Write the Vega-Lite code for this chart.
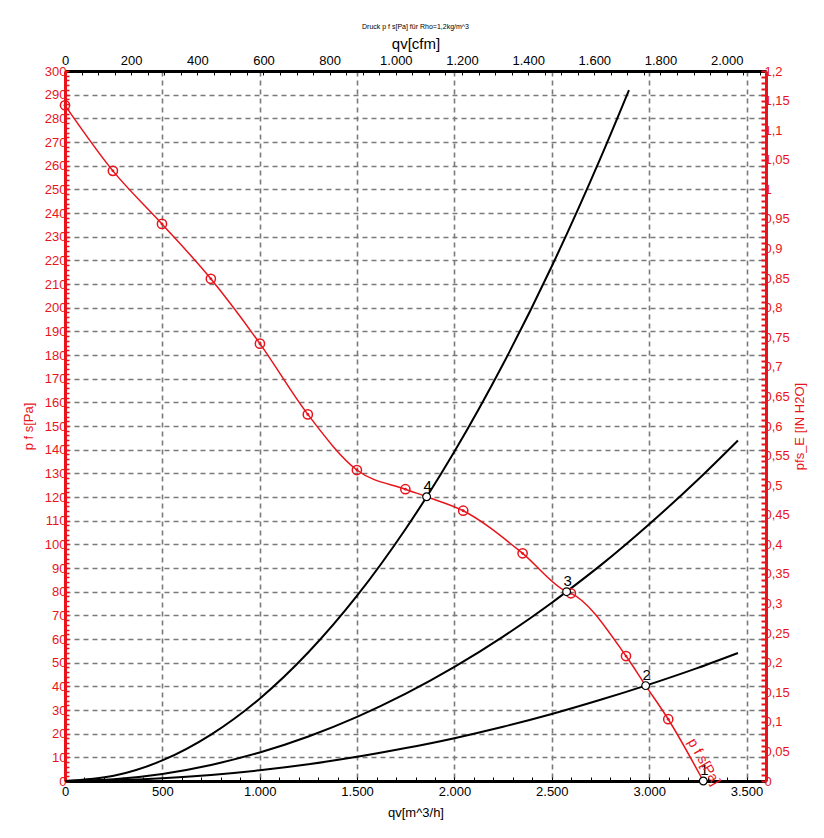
{
  "$schema": "https://vega.github.io/schema/vega-lite/v6.json",
  "autosize": {"type": "none"},
  "padding": {"left": 65, "top": 71, "right": 58, "bottom": 57},
  "width": 701,
  "height": 710,
  "background": "white",
  "config": {
    "locale": {"number": {"decimal": ",", "thousands": ".", "grouping": [3], "currency": ["", " €"]}},
    "font": "Liberation Sans",
    "view": {"stroke": null},
    "axis": {"labelFlush": false}
  },
  "title": {"text": "Druck p f s[Pa] für Rho=1,2kg/m^3", "fontSize": 7, "fontWeight": "normal", "font": "Liberation Sans", "color": "black", "offset": 6},
  "datasets": {
    "fan": [
      {"q": 0, "p": 285.5, "kind": "m"},
      {"q": 246, "p": 257.8, "kind": "m"},
      {"q": 498, "p": 235.4, "kind": "m"},
      {"q": 749, "p": 212.2, "kind": "m"},
      {"q": 1001, "p": 184.8, "kind": "m"},
      {"q": 1247, "p": 154.9, "kind": "m"},
      {"q": 1499, "p": 131.4, "kind": "m"},
      {"q": 1748, "p": 123.3, "kind": "m"},
      {"q": 1857, "p": 120.1, "kind": "op"},
      {"q": 2045, "p": 114.2, "kind": "m"},
      {"q": 2350, "p": 96.2, "kind": "m"},
      {"q": 2576, "p": 80.0, "kind": "op"},
      {"q": 2598, "p": 79.3, "kind": "m"},
      {"q": 2881, "p": 52.8, "kind": "m"},
      {"q": 2982, "p": 40.3, "kind": "op"},
      {"q": 3098, "p": 26.1, "kind": "m"},
      {"q": 3278, "p": 0, "kind": "op"}
    ],
    "ops": [
      {"id": "4", "q": 1857, "p": 120.1},
      {"id": "3", "q": 2576, "p": 80.0},
      {"id": "2", "q": 2982, "p": 40.3},
      {"id": "1", "q": 3278, "p": 0}
    ],
    "sys": [
      {"curve": 4, "q": 0, "p": 0},
      {"curve": 4, "q": 250, "p": 2.18},
      {"curve": 4, "q": 500, "p": 8.7},
      {"curve": 4, "q": 750, "p": 19.6},
      {"curve": 4, "q": 1000, "p": 34.8},
      {"curve": 4, "q": 1250, "p": 54.4},
      {"curve": 4, "q": 1500, "p": 78.3},
      {"curve": 4, "q": 1750, "p": 106.6},
      {"curve": 4, "q": 1857, "p": 120.0},
      {"curve": 4, "q": 2000, "p": 139.2},
      {"curve": 4, "q": 2250, "p": 176.2},
      {"curve": 4, "q": 2500, "p": 217.5},
      {"curve": 4, "q": 2750, "p": 263.2},
      {"curve": 4, "q": 2896, "p": 291.9},
      {"curve": 3, "q": 0, "p": 0},
      {"curve": 3, "q": 250, "p": 0.75},
      {"curve": 3, "q": 500, "p": 3.0},
      {"curve": 3, "q": 750, "p": 6.8},
      {"curve": 3, "q": 1000, "p": 12.05},
      {"curve": 3, "q": 1250, "p": 18.8},
      {"curve": 3, "q": 1500, "p": 27.1},
      {"curve": 3, "q": 1750, "p": 36.9},
      {"curve": 3, "q": 2000, "p": 48.2},
      {"curve": 3, "q": 2250, "p": 61.0},
      {"curve": 3, "q": 2500, "p": 75.3},
      {"curve": 3, "q": 2576, "p": 80.0},
      {"curve": 3, "q": 2750, "p": 91.1},
      {"curve": 3, "q": 3000, "p": 108.5},
      {"curve": 3, "q": 3250, "p": 127.3},
      {"curve": 3, "q": 3456, "p": 143.9},
      {"curve": 2, "q": 0, "p": 0},
      {"curve": 2, "q": 250, "p": 0.28},
      {"curve": 2, "q": 500, "p": 1.13},
      {"curve": 2, "q": 750, "p": 2.55},
      {"curve": 2, "q": 1000, "p": 4.53},
      {"curve": 2, "q": 1250, "p": 7.08},
      {"curve": 2, "q": 1500, "p": 10.2},
      {"curve": 2, "q": 1750, "p": 13.9},
      {"curve": 2, "q": 2000, "p": 18.1},
      {"curve": 2, "q": 2250, "p": 22.9},
      {"curve": 2, "q": 2500, "p": 28.3},
      {"curve": 2, "q": 2750, "p": 34.3},
      {"curve": 2, "q": 2982, "p": 40.3},
      {"curve": 2, "q": 3250, "p": 47.8},
      {"curve": 2, "q": 3456, "p": 54.1}
    ],
    "label": [
      {"q": 3280, "p": 8, "text": "p f s[Pa]"}
    ],
    "aux": [
      {"cfm": 0, "inh2o": 0},
      {"cfm": 2118.9, "inh2o": 1.2}
    ]
  },
  "layer": [
    {
      "layer": [
        {
          "data": {"name": "sys"},
          "mark": {"type": "line", "color": "black", "strokeWidth": 2, "interpolate": "monotone"},
          "encoding": {
            "x": {
              "field": "q", "type": "quantitative",
              "scale": {"domain": [0, 3600], "nice": false, "zero": false},
              "axis": {
                "orient": "bottom",
                "title": "qv[m^3/h]",
                "titleFontSize": 13, "titleFontWeight": "normal", "titleColor": "black", "titleFont": "Liberation Sans",
                "titlePadding": 8,
                "tickCount": 1000,
                "labelOverlap": false,
                "values": [0,100,200,300,400,500,600,700,800,900,1000,1100,1200,1300,1400,1500,1600,1700,1800,1900,2000,2100,2200,2300,2400,2500,2600,2700,2800,2900,3000,3100,3200,3300,3400,3500],
                "format": ",d",
                "labelExpr": "datum.value % 500 === 0 ? datum.label : ''",
                "labelFontSize": 13, "labelColor": "black", "labelFont": "Liberation Sans",
                "labelPadding": 8,
                "domainColor": "black", "domainWidth": 3,
                "tickColor": "black", "tickWidth": 1,
                "tickSize": -4,
                "grid": true,
                "gridColor": "#7a7a7a", "gridWidth": 1.6, "gridDash": [5, 4],
                "gridOpacity": {"condition": {"test": "datum.value % 500 === 0 && datum.value > 0", "value": 1}, "value": 0}
              }
            },
            "y": {
              "field": "p", "type": "quantitative",
              "scale": {"domain": [0, 300], "nice": false, "zero": false},
              "axis": {
                "orient": "left",
                "title": "p f s[Pa]",
                "titleFontSize": 13, "titleFontWeight": "normal", "titleColor": "#e8141c", "titleFont": "Liberation Sans",
                "titleX": -30,
                "tickCount": 1000,
                "labelOverlap": false,
                "values": [0,2,4,6,8,10,12,14,16,18,20,22,24,26,28,30,32,34,36,38,40,42,44,46,48,50,52,54,56,58,60,62,64,66,68,70,72,74,76,78,80,82,84,86,88,90,92,94,96,98,100,102,104,106,108,110,112,114,116,118,120,122,124,126,128,130,132,134,136,138,140,142,144,146,148,150,152,154,156,158,160,162,164,166,168,170,172,174,176,178,180,182,184,186,188,190,192,194,196,198,200,202,204,206,208,210,212,214,216,218,220,222,224,226,228,230,232,234,236,238,240,242,244,246,248,250,252,254,256,258,260,262,264,266,268,270,272,274,276,278,280,282,284,286,288,290,292,294,296,298,300],
                "format": "d",
                "labelExpr": "datum.value % 10 === 0 ? datum.label : ''",
                "labelFontSize": 13, "labelColor": "#e8141c", "labelFont": "Liberation Sans",
                "labelPadding": 3,
                "domainColor": "#e8141c", "domainWidth": 3,
                "tickColor": "#e8141c", "tickWidth": 1.5,
                "tickSize": -4,
                "grid": true,
                "gridColor": "#7a7a7a", "gridWidth": 1.6, "gridDash": [5, 4],
                "gridOpacity": {"condition": {"test": "datum.value % 10 === 0 && datum.value > 0 && datum.value < 300", "value": 1}, "value": 0}
              }
            },
            "detail": {"field": "curve", "type": "nominal"}
          }
        },
        {
          "data": {"name": "fan"},
          "mark": {"type": "line", "color": "#e8141c", "strokeWidth": 1.5, "interpolate": "monotone"},
          "encoding": {
            "x": {"field": "q", "type": "quantitative"},
            "y": {"field": "p", "type": "quantitative"}
          }
        },
        {
          "data": {"name": "fan"},
          "transform": [{"filter": "datum.kind === 'm'"}],
          "mark": {"type": "point", "shape": "circle", "filled": false, "color": "#e8141c", "strokeWidth": 1.5, "size": 85, "opacity": 1},
          "encoding": {
            "x": {"field": "q", "type": "quantitative"},
            "y": {"field": "p", "type": "quantitative"}
          }
        },
        {
          "data": {"name": "fan"},
          "transform": [{"filter": "datum.kind === 'm'"}],
          "mark": {"type": "point", "shape": "circle", "filled": true, "color": "#e8141c", "size": 8, "opacity": 1},
          "encoding": {
            "x": {"field": "q", "type": "quantitative"},
            "y": {"field": "p", "type": "quantitative"}
          }
        },
        {
          "data": {"name": "ops"},
          "mark": {"type": "point", "shape": "circle", "filled": true, "fill": "white", "stroke": "black", "strokeWidth": 1.2, "size": 60, "opacity": 1},
          "encoding": {
            "x": {"field": "q", "type": "quantitative"},
            "y": {"field": "p", "type": "quantitative"}
          }
        },
        {
          "data": {"name": "ops"},
          "mark": {"type": "text", "color": "black", "fontSize": 15, "font": "Liberation Sans", "dy": -11, "dx": 1},
          "encoding": {
            "x": {"field": "q", "type": "quantitative"},
            "y": {"field": "p", "type": "quantitative"},
            "text": {"field": "id"}
          }
        },
        {
          "data": {"name": "label"},
          "mark": {"type": "text", "color": "#e8141c", "fontSize": 14, "font": "Liberation Sans", "angle": 60, "align": "center", "baseline": "middle"},
          "encoding": {
            "x": {"field": "q", "type": "quantitative"},
            "y": {"field": "p", "type": "quantitative"},
            "text": {"field": "text"}
          }
        }
      ]
    },
    {
      "data": {"name": "aux"},
      "mark": {"type": "point", "opacity": 0},
      "encoding": {
        "x": {
          "field": "cfm", "type": "quantitative",
          "scale": {"domain": [0, 2118.9], "nice": false, "zero": false},
          "axis": {
            "orient": "top",
            "title": "qv[cfm]",
            "titleFontSize": 15, "titleFontWeight": "normal", "titleColor": "black", "titleFont": "Liberation Sans",
            "titlePadding": 3,
            "tickCount": 1000,
            "labelOverlap": false,
            "values": [0,50,100,150,200,250,300,350,400,450,500,550,600,650,700,750,800,850,900,950,1000,1050,1100,1150,1200,1250,1300,1350,1400,1450,1500,1550,1600,1650,1700,1750,1800,1850,1900,1950,2000,2050,2100],
            "format": ",d",
            "labelExpr": "datum.value % 200 === 0 ? datum.label : ''",
            "labelFontSize": 13, "labelColor": "black", "labelFont": "Liberation Sans",
            "labelPadding": 8,
            "domainColor": "black", "domainWidth": 3,
            "tickColor": "black", "tickWidth": 1,
            "tickSize": -4,
            "grid": false
          }
        },
        "y": {
          "field": "inh2o", "type": "quantitative",
          "scale": {"domain": [0, 1.2], "nice": false, "zero": false},
          "axis": {
            "orient": "right",
            "title": "pfs_E [IN H2O]",
            "titleAngle": -90,
            "titleFontSize": 13, "titleFontWeight": "normal", "titleColor": "#e8141c", "titleFont": "Liberation Sans",
            "titleX": 40,
            "tickCount": 1000,
            "labelOverlap": false,
            "values": [0,0.01,0.02,0.03,0.04,0.05,0.06,0.07,0.08,0.09,0.1,0.11,0.12,0.13,0.14,0.15,0.16,0.17,0.18,0.19,0.2,0.21,0.22,0.23,0.24,0.25,0.26,0.27,0.28,0.29,0.3,0.31,0.32,0.33,0.34,0.35,0.36,0.37,0.38,0.39,0.4,0.41,0.42,0.43,0.44,0.45,0.46,0.47,0.48,0.49,0.5,0.51,0.52,0.53,0.54,0.55,0.56,0.57,0.58,0.59,0.6,0.61,0.62,0.63,0.64,0.65,0.66,0.67,0.68,0.69,0.7,0.71,0.72,0.73,0.74,0.75,0.76,0.77,0.78,0.79,0.8,0.81,0.82,0.83,0.84,0.85,0.86,0.87,0.88,0.89,0.9,0.91,0.92,0.93,0.94,0.95,0.96,0.97,0.98,0.99,1,1.01,1.02,1.03,1.04,1.05,1.06,1.07,1.08,1.09,1.1,1.11,1.12,1.13,1.14,1.15,1.16,1.17,1.18,1.19,1.2],
            "format": ".2~f",
            "labelExpr": "abs(datum.value * 20 - round(datum.value * 20)) < 0.000001 ? datum.label : ''",
            "labelFontSize": 13, "labelColor": "#e8141c", "labelFont": "Liberation Sans",
            "labelPadding": 3,
            "domainColor": "#e8141c", "domainWidth": 3,
            "tickColor": "#e8141c", "tickWidth": 2,
            "tickSize": -5,
            "grid": false
          }
        }
      }
    }
  ],
  "resolve": {"scale": {"x": "independent", "y": "independent"}}
}
